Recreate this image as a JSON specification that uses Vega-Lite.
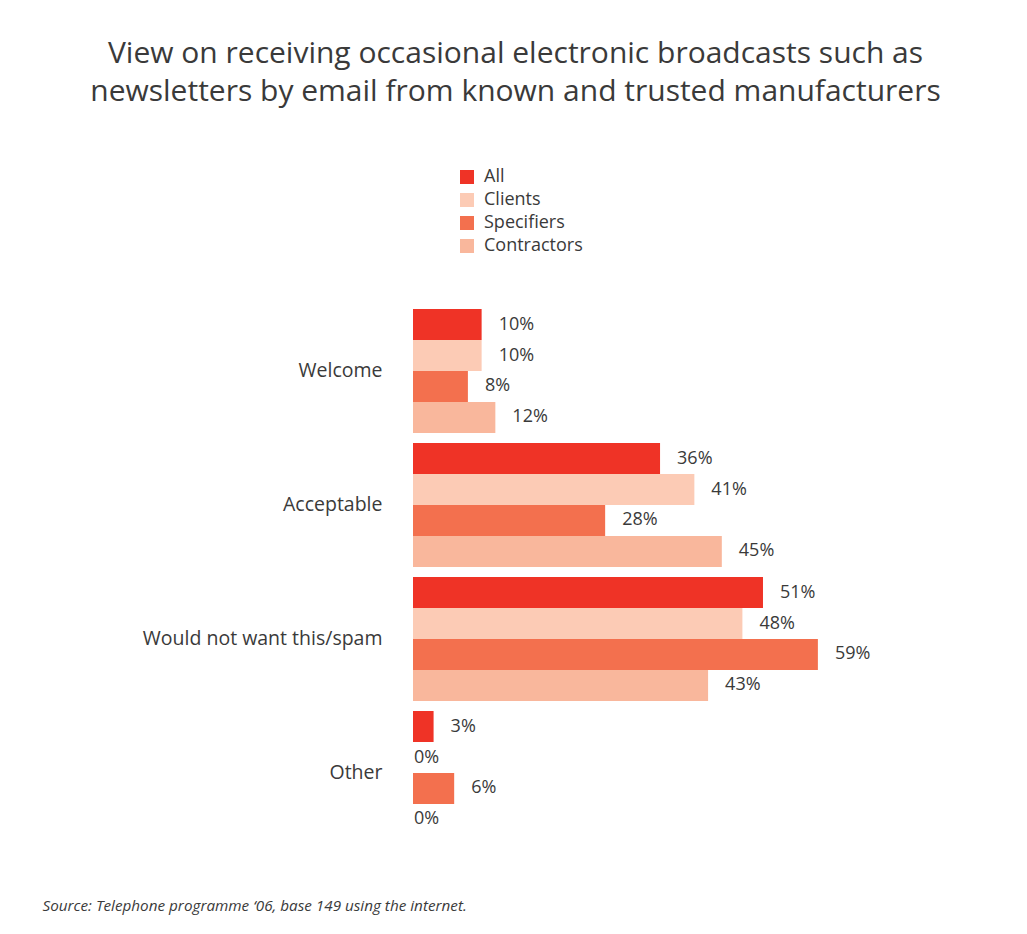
{
  "$schema": "https://vega.github.io/schema/vega-lite/v6.json",
  "autosize": {"type": "none"},
  "width": 549,
  "height": 536,
  "padding": {"left": 413, "top": 304, "right": 65, "bottom": 94},
  "background": "white",
  "view": {"stroke": null},
  "title": {
    "text": ["View on receiving occasional electronic broadcasts such as", "newsletters by email from known and trusted manufacturers"],
    "font": "Open Sans",
    "fontSize": 30,
    "fontWeight": "normal",
    "color": "#3a3a3a",
    "lineHeight": 38,
    "anchor": "middle",
    "frame": "group",
    "baseline": "alphabetic",
    "dx": -172,
    "dy": -33
  },
  "data": {
    "values": [
      {"category": "Welcome", "group": "All", "value": 0.10},
      {"category": "Welcome", "group": "Clients", "value": 0.10},
      {"category": "Welcome", "group": "Specifiers", "value": 0.08},
      {"category": "Welcome", "group": "Contractors", "value": 0.12},
      {"category": "Acceptable", "group": "All", "value": 0.36},
      {"category": "Acceptable", "group": "Clients", "value": 0.41},
      {"category": "Acceptable", "group": "Specifiers", "value": 0.28},
      {"category": "Acceptable", "group": "Contractors", "value": 0.45},
      {"category": "Would not want this/spam", "group": "All", "value": 0.51},
      {"category": "Would not want this/spam", "group": "Clients", "value": 0.48},
      {"category": "Would not want this/spam", "group": "Specifiers", "value": 0.59},
      {"category": "Would not want this/spam", "group": "Contractors", "value": 0.43},
      {"category": "Other", "group": "All", "value": 0.03},
      {"category": "Other", "group": "Clients", "value": 0},
      {"category": "Other", "group": "Specifiers", "value": 0.06},
      {"category": "Other", "group": "Contractors", "value": 0}
    ]
  },
  "encoding": {
    "y": {
      "field": "category",
      "type": "nominal",
      "sort": ["Welcome", "Acceptable", "Would not want this/spam", "Other"],
      "scale": {"paddingInner": 0.075, "paddingOuter": 0.0375},
      "axis": {
        "title": null,
        "ticks": false,
        "domain": false,
        "labelPadding": 31,
        "labelFont": "Open Sans",
        "labelFontSize": 19.5,
        "labelColor": "#3a3a3a",
        "labelLimit": 400
      }
    },
    "yOffset": {
      "field": "group",
      "type": "nominal",
      "sort": ["All", "Clients", "Specifiers", "Contractors"],
      "scale": {"paddingInner": 0, "paddingOuter": 0}
    },
    "x": {
      "field": "value",
      "type": "quantitative",
      "scale": {"domain": [0, 0.8], "nice": false},
      "axis": {
        "labels": false,
        "ticks": false,
        "domain": false,
        "grid": false,
        "title": "Source: Telephone programme ‘06, base 149 using the internet.",
        "titleFont": "Open Sans",
        "titleFontSize": 15.25,
        "titleFontStyle": "italic",
        "titleFontWeight": "normal",
        "titleColor": "#3a3a3a",
        "titleAnchor": "start",
        "titleAlign": "left",
        "titleBaseline": "alphabetic",
        "titleX": -371,
        "titleY": 70
      }
    }
  },
  "layer": [
    {
      "mark": {"type": "bar", "cornerRadius": 0},
      "encoding": {
        "color": {
          "field": "group",
          "type": "nominal",
          "sort": ["All", "Clients", "Specifiers", "Contractors"],
          "scale": {
            "domain": ["All", "Clients", "Specifiers", "Contractors"],
            "range": ["#EF3326", "#FCCBB5", "#F3704E", "#F9B79C"]
          },
          "legend": {
            "title": null,
            "orient": "none",
            "legendX": 45,
            "legendY": -136,
            "symbolType": "square",
            "symbolSize": 196,
            "symbolStrokeWidth": 0,
            "symbolOpacity": 1,
            "labelFont": "Open Sans",
            "labelFontSize": 18,
            "labelColor": "#3a3a3a",
            "labelOffset": 8,
            "rowPadding": 5,
            "padding": 0
          }
        }
      }
    },
    {
      "transform": [{"filter": "datum.value > 0"}],
      "mark": {"type": "text", "align": "left", "baseline": "middle", "dx": 17, "font": "Open Sans", "fontSize": 18, "color": "#3a3a3a"},
      "encoding": {"text": {"field": "value", "type": "quantitative", "format": ".0%"}}
    },
    {
      "transform": [{"filter": "datum.value == 0"}],
      "mark": {"type": "text", "align": "left", "baseline": "middle", "dx": 1, "font": "Open Sans", "fontSize": 18, "color": "#3a3a3a"},
      "encoding": {"text": {"field": "value", "type": "quantitative", "format": ".0%"}}
    }
  ]
}
